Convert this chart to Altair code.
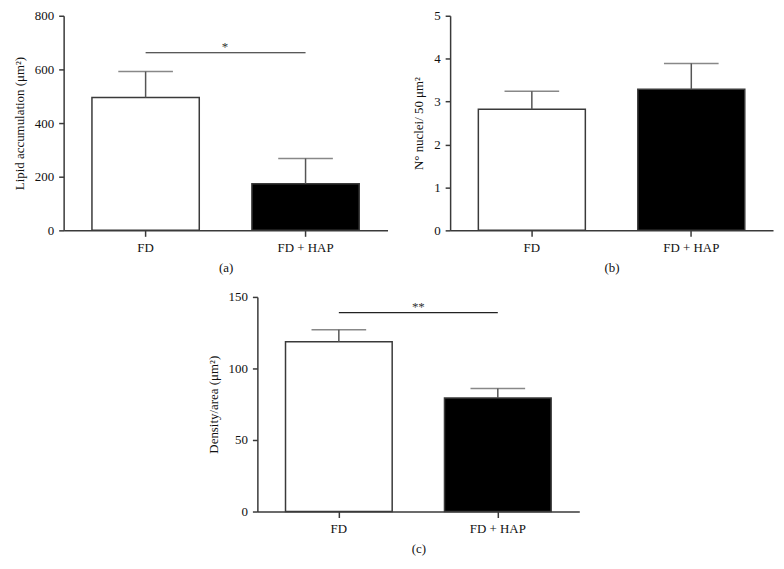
import altair as alt
import pandas as pd

groups = ["FD", "FD + HAP"]
fills = ["white", "black"]

lipid_mean = [495, 174]
lipid_err = [97, 94]
lipid_sig = 662

nuclei_mean = [2.82, 3.29]
nuclei_err = [0.42, 0.60]

density_mean = [118.7, 79.4]
density_err = [8.3, 6.6]
density_sig = 139

FONT = "Liberation Serif"
AX = "#3a3a3a"
ERR = "#555555"


def panel(mean, err, ymax, yticks, ytitle, label, width, sig=None, sig_text=""):
    df = pd.DataFrame({
        "group": groups,
        "mean": mean,
        "top": [m + e for m, e in zip(mean, err)],
        "fill": fills,
    })
    xenc = alt.X(
        "group:N", sort=groups,
        scale=alt.Scale(paddingInner=0.329, paddingOuter=0.177),
        axis=alt.Axis(title=label, labelAngle=0, titlePadding=7, labelPadding=5, tickSize=6),
    )
    yenc = alt.Y(
        "mean:Q",
        scale=alt.Scale(domain=[0, ymax], nice=False),
        axis=alt.Axis(title=ytitle, values=yticks, grid=False, titlePadding=8, labelPadding=5),
    )
    base = alt.Chart(df)
    bars = base.mark_bar(stroke=AX, strokeWidth=1.5).encode(
        x=xenc, y=yenc, fill=alt.Fill("fill:N", scale=None)
    )
    stem = base.mark_rule(color=ERR, strokeWidth=1.5).encode(
        x=alt.X("group:N", sort=groups), y="mean:Q", y2="top:Q"
    )
    cap = base.mark_tick(color=ERR, thickness=1.5, size=55, orient="horizontal").encode(
        x=alt.X("group:N", sort=groups), y="top:Q"
    )
    layers = [bars, stem, cap]
    if sig is not None:
        sdf = pd.DataFrame({"g1": [groups[0]], "g2": [groups[1]], "y": [sig], "t": [sig_text]})
        sbase = alt.Chart(sdf)
        line = sbase.mark_rule(color="#222222", strokeWidth=1.2).encode(
            x=alt.X("g1:N", sort=groups), x2="g2:N", y="y:Q"
        )
        star = sbase.mark_text(font=FONT, fontSize=13, dx=80, dy=-6, color="#333333").encode(
            x=alt.X("g1:N", sort=groups), y="y:Q", text="t:N"
        )
        layers += [line, star]
    return alt.layer(*layers).properties(width=width, height=216)


pa = panel(lipid_mean, lipid_err, 800, [0, 200, 400, 600, 800],
           "Lipid accumulation (μm²)", "(a)", 326, lipid_sig, "*")
pb = panel(nuclei_mean, nuclei_err, 5, [0, 1, 2, 3, 4, 5],
           "N° nuclei/ 50 μm²", "(b)", 325)
pc = panel(density_mean, density_err, 150, [0, 50, 100, 150],
           "Density/area (μm²)", "(c)", 324, density_sig, "**")

top = alt.hconcat(pa, pb, spacing=25)
chart = alt.vconcat(top, pc, spacing=17, center=True).properties(
    padding={"left": 5, "top": 0, "right": 3, "bottom": 5},
    background="white",
).configure_view(stroke=None).configure_axis(
    domainColor=AX, tickColor=AX, domainWidth=1.5, tickWidth=1.5, tickSize=5,
    labelFont=FONT, labelFontSize=13, labelColor="#111111",
    titleFont=FONT, titleFontSize=13, titleFontWeight="normal", titleColor="#111111",
)

chart.save("out.html", embed_options={"renderer": "svg", "actions": False})
